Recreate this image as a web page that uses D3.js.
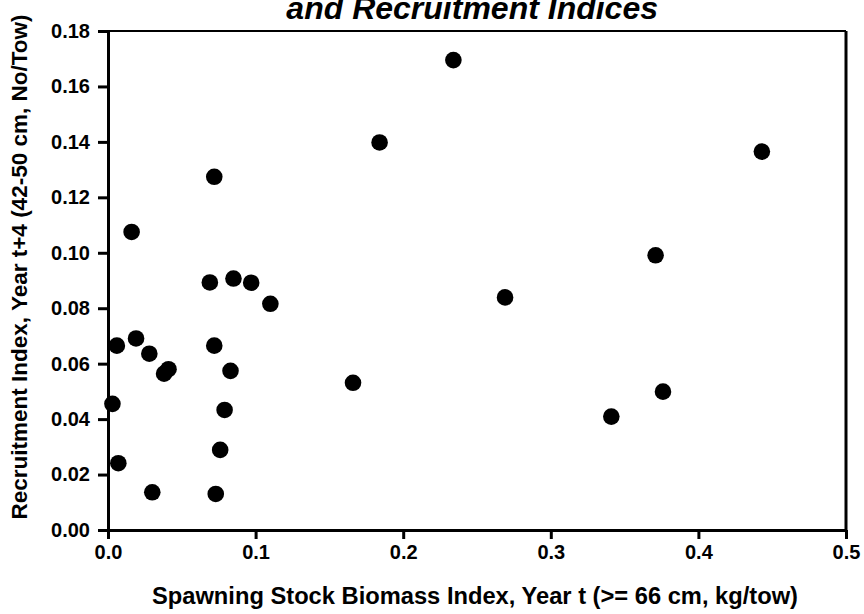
<!DOCTYPE html>
<html>
<head>
<meta charset="utf-8">
<script src="https://cdn.jsdelivr.net/npm/d3@7"></script>
<style>
  body { margin: 0; background: #fff; }
  text { font-family: "Liberation Sans", Arial, sans-serif; font-weight: bold; }
</style>
</head>
<body>
<script>
// spawning stock biomass index, year t (kg/tow)
var ssb = [0.234, 0.184, 0.443, 0.072, 0.016, 0.371, 0.069, 0.085, 0.097,
  0.269, 0.110, 0.019, 0.006, 0.072, 0.028, 0.038, 0.041, 0.083, 0.166,
  0.376, 0.003, 0.079, 0.341, 0.076, 0.007, 0.030, 0.073];
// recruitment index, year t+4 (no/tow)
var recruits = [0.1695, 0.1398, 0.1365, 0.1274, 0.1075, 0.0991, 0.0893, 0.0907, 0.0892,
  0.0839, 0.0816, 0.0691, 0.0665, 0.0665, 0.0636, 0.0564, 0.0580, 0.0574, 0.0531,
  0.0499, 0.0455, 0.0433, 0.0409, 0.0289, 0.0241, 0.0136, 0.0130];

var xTicks = [0, 0.1, 0.2, 0.3, 0.4, 0.5];
var yTicks = [0, 0.02, 0.04, 0.06, 0.08, 0.10, 0.12, 0.14, 0.16, 0.18];

var titleText = "and Recruitment Indices";
var xTitle = "Spawning Stock Biomass Index, Year t (>= 66 cm, kg/tow)";
var yTitle = "Recruitment Index, Year t+4 (42-50 cm, No/Tow)";

var width = 864, height = 614;
var margin = {top: 31, right: 18, bottom: 84, left: 108};

var svg = d3.select("body").append("svg")
  .attr("width", width)
  .attr("height", height);

var x = d3.scaleLinear().domain([0, 0.5]).range([margin.left, width - margin.right]);
var y = d3.scaleLinear().domain([0, 0.18]).range([height - margin.bottom, margin.top]);

// frame lines on top and right
svg.append("line")
  .attr("x1", x(0)).attr("x2", x(0.5))
  .attr("y1", y(0.18)).attr("y2", y(0.18))
  .style("stroke", "black").style("stroke-width", 2);
svg.append("line")
  .attr("x1", x(0.5)).attr("x2", x(0.5))
  .attr("y1", y(0.18)).attr("y2", y(0))
  .style("stroke", "black").style("stroke-width", 3);

var xAxis = svg.append("g")
  .attr("transform", "translate(0," + y(0) + ")")
  .call(d3.axisBottom(x).tickValues(xTicks).tickFormat(d3.format(".1f")).tickSizeInner(9).tickSizeOuter(0).tickPadding(6));

var yAxis = svg.append("g")
  .attr("transform", "translate(" + x(0) + ",0)")
  .call(d3.axisLeft(y).tickValues(yTicks).tickFormat(d3.format(".2f")).tickSizeInner(10).tickSizeOuter(0).tickPadding(8));

[xAxis, yAxis].forEach(function(ax) {
  ax.select(".domain").style("stroke", "black").style("stroke-width", 3);
  ax.selectAll(".tick line").style("stroke", "black").style("stroke-width", 3);
  ax.selectAll(".tick text")
    .style("font-family", "'Liberation Sans', Arial, sans-serif")
    .style("font-weight", "bold")
    .style("font-size", "20px")
    .style("fill", "black");
});

// points
svg.append("g")
  .selectAll("circle")
  .data(ssb)
  .enter()
  .append("circle")
  .attr("cx", function(d) { return x(d); })
  .attr("cy", function(d, i) { return y(recruits[i]); })
  .attr("r", 8.3)
  .attr("fill", "black");

// titles (top one is clipped by the top edge, as in the original)
svg.append("text")
  .attr("x", 658)
  .attr("y", 19)
  .attr("text-anchor", "end")
  .style("font-size", "32px")
  .style("font-style", "italic")
  .text(titleText);

svg.append("text")
  .attr("x", 475)
  .attr("y", 604)
  .attr("text-anchor", "middle")
  .attr("textLength", 646)
  .attr("lengthAdjust", "spacingAndGlyphs")
  .style("font-size", "23.5px")
  .text(xTitle);

svg.append("text")
  .attr("transform", "translate(27,267) rotate(-90)")
  .attr("text-anchor", "middle")
  .attr("textLength", 505)
  .attr("lengthAdjust", "spacingAndGlyphs")
  .style("font-size", "22px")
  .text(yTitle);
</script>
</body>
</html>
